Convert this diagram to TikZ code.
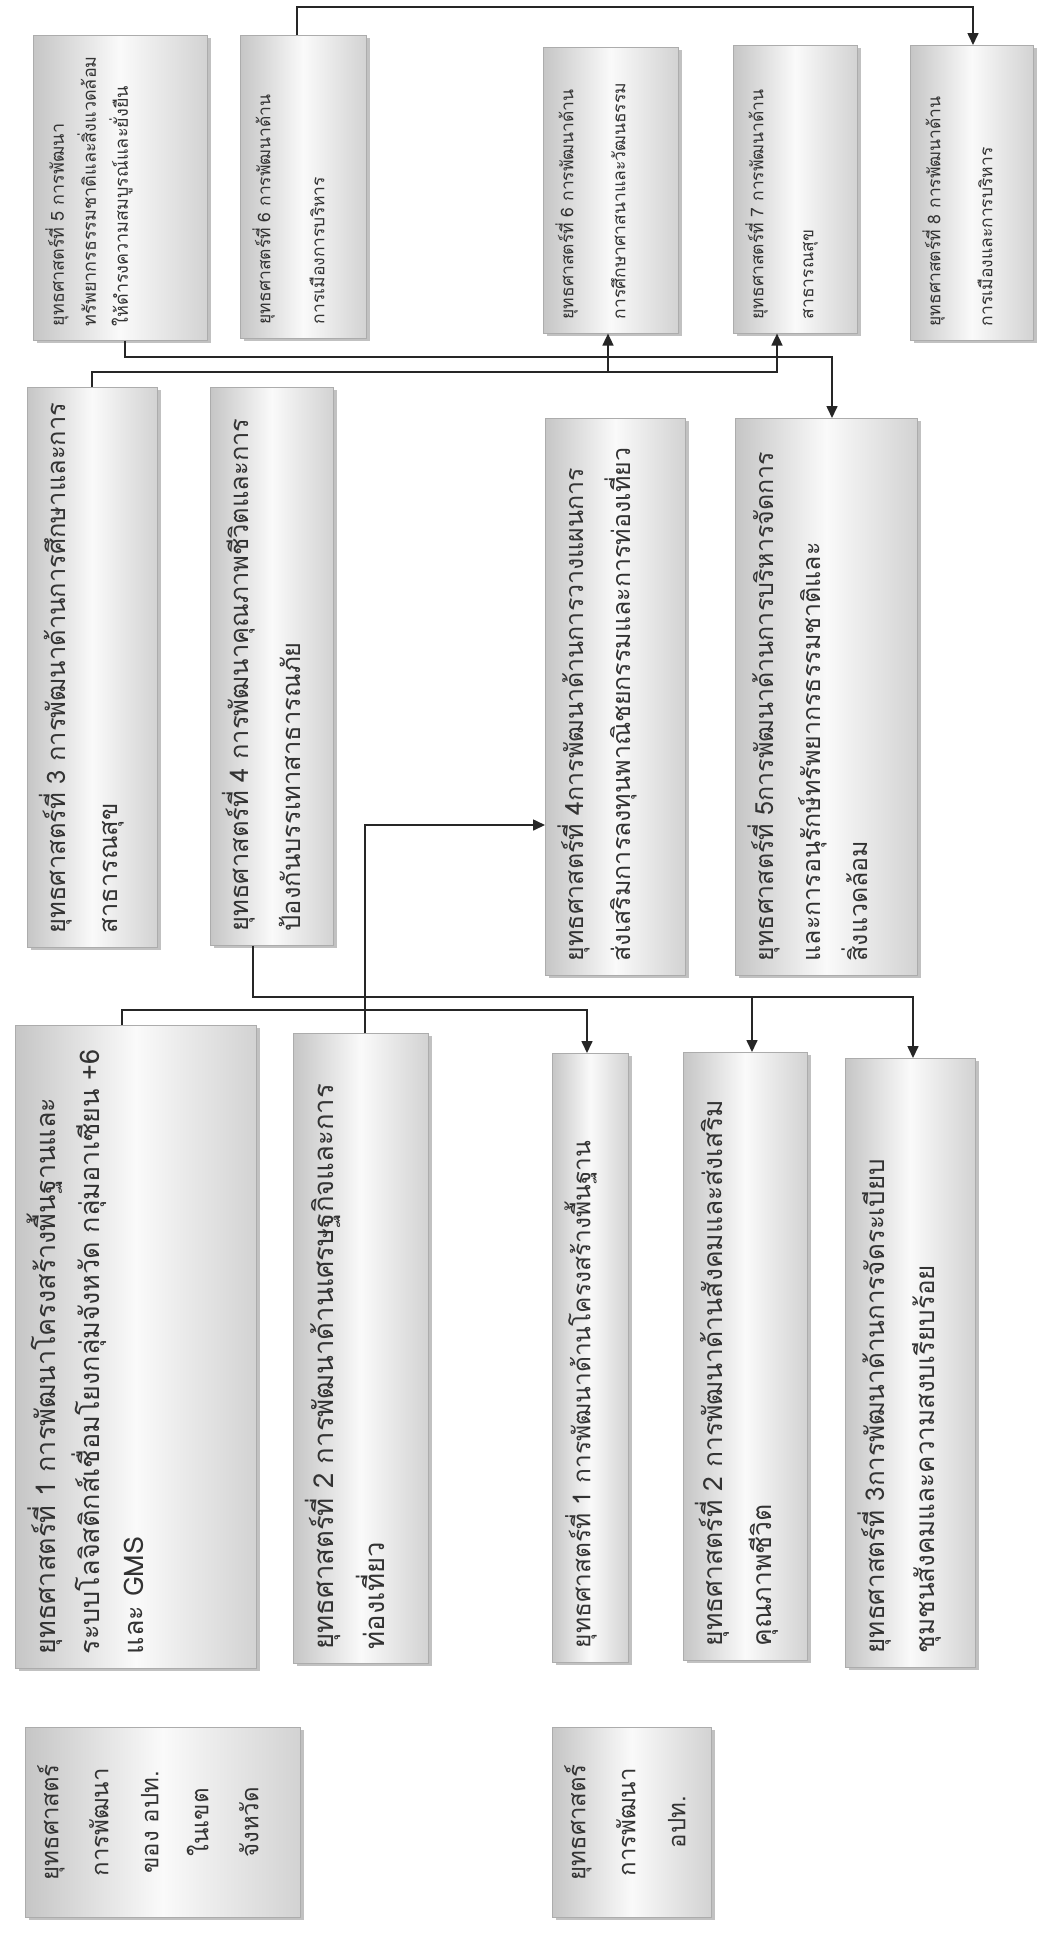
\documentclass[tikz,border=0pt]{standalone}
\usepackage{fontspec}
\usepackage{graphicx}
\newfontfamily\thai[Script=Thai]{Loma}
\usetikzlibrary{arrows.meta,shadows}
\newcommand\fz[2]{\thai\fontsize{#1}{#2}\selectfont}
% name, x, y, w, h, font/alignment, text
\newcommand\stratnode[7]{%
  \node[stratbox, minimum width=#4pt, minimum height=#5pt, anchor=north west] (#1) at (#2,#3)
  {\rotatebox{90}{\parbox[c][\dimexpr#4pt-24pt\relax][t]{\dimexpr#5pt-28pt\relax}{#6#7}}};}
\newcommand\tline[1]{\mbox{#1}}
\begin{document}
\begin{tikzpicture}[x=1pt,y=-1pt,
  stratbox/.style={draw=gray!65, line width=0.6pt, inner sep=0pt, text=black!80,
    left color=gray!45, right color=gray!35, middle color=gray!4,
    drop shadow={shadow xshift=4pt, shadow yshift=-3pt, fill=gray!60, opacity=0.8}},
  conn/.style={draw=black!85, line width=1.6pt},
  arr/.style={conn, -{Triangle[length=12pt,width=11pt]}}]
\fill[white] (0,0) rectangle (1042,1947);
\useasboundingbox (0,0) rectangle (1042,1947);

% top row
\stratnode{b5}{33}{35}{174}{305}{\fz{18}{32}\raggedright}{\tline{ยุทธศาสตร์ที่ 5 การพัฒนา}\\\tline{ทรัพยากรธรรมชาติและสิ่งแวดล้อม}\\\tline{ให้ดำรงความสมบูรณ์และยั่งยืน}}
\stratnode{b6}{240}{35}{126}{303}{\fz{17.5}{54}\raggedright}{\tline{ยุทธศาสตร์ที่ 6 การพัฒนาด้าน}\\\tline{การเมืองการบริหาร}}
\stratnode{l6}{543}{47}{135}{286}{\fz{17.5}{52}\raggedright}{\tline{ยุทธศาสตร์ที่ 6 การพัฒนาด้าน}\\\tline{การศึกษาศาสนาและวัฒนธรรม}}
\stratnode{l7}{733}{45}{124}{288}{\fz{17.5}{50}\raggedright}{\tline{ยุทธศาสตร์ที่ 7 การพัฒนาด้าน}\\\tline{สาธารณสุข}}
\stratnode{l8}{910}{45}{123}{295}{\fz{17.5}{52}\raggedright}{\tline{ยุทธศาสตร์ที่ 8 การพัฒนาด้าน}\\\tline{การเมืองและการบริหาร}}
% second row
\stratnode{b3}{27}{387}{130}{560}{\fz{25.5}{52}\raggedright}{\tline{ยุทธศาสตร์ที่ 3 การพัฒนาด้านการศึกษาและการ}\\\tline{สาธารณสุข}}
\stratnode{b4}{210}{387}{123}{558}{\fz{25.5}{52}\raggedright}{\tline{ยุทธศาสตร์ที่ 4 การพัฒนาคุณภาพชีวิตและการ}\\\tline{ป้องกันบรรเทาสาธารณภัย}}
\stratnode{l4}{545}{418}{140}{557}{\fz{25}{47}\raggedright}{\tline{ยุทธศาสตร์ที่ 4การพัฒนาด้านการวางแผนการ}\\\tline{ส่งเสริมการลงทุนพาณิชยกรรมและการท่องเที่ยว}}
\stratnode{l5}{735}{418}{182}{557}{\fz{25}{47}\raggedright}{\tline{ยุทธศาสตร์ที่ 5การพัฒนาด้านการบริหารจัดการ}\\\tline{และการอนุรักษ์ทรัพยากรธรรมชาติและ}\\\tline{สิ่งแวดล้อม}}
% third row
\stratnode{b1}{15}{1025}{241}{643}{\fz{27}{44}\raggedright}{\tline{ยุทธศาสตร์ที่ 1 การพัฒนาโครงสร้างพื้นฐานและ}\\\tline{ระบบโลจิสติกส์เชื่อมโยงกลุ่มจังหวัด กลุ่มอาเซียน +6}\\\tline{และ GMS}}
\stratnode{b2}{293}{1033}{135}{630}{\fz{27.5}{51}\raggedright}{\tline{ยุทธศาสตร์ที่ 2 การพัฒนาด้านเศรษฐกิจและการ}\\\tline{ท่องเที่ยว}}
\stratnode{s1}{552}{1053}{76}{609}{\fz{24.5}{49}\raggedright}{\tline{ยุทธศาสตร์ที่ 1 การพัฒนาด้านโครงสร้างพื้นฐาน}}
\stratnode{s2}{683}{1052}{124}{608}{\fz{26.5}{49}\raggedright}{\tline{ยุทธศาสตร์ที่ 2 การพัฒนาด้านสังคมและส่งเสริม}\\\tline{คุณภาพชีวิต}}
\stratnode{s3}{845}{1058}{130}{609}{\fz{26}{50}\raggedright}{\tline{ยุทธศาสตร์ที่ 3การพัฒนาด้านการจัดระเบียบ}\\\tline{ชุมชนสังคมและความสงบเรียบร้อย}}
% bottom row
\stratnode{lo1}{25}{1727}{275}{190}{\fz{24}{50}\centering}{\tline{ยุทธศาสตร์}\\\tline{การพัฒนา}\\\tline{ของ อปท.}\\\tline{ในเขต}\\\tline{จังหวัด}}
\stratnode{lo2}{552}{1727}{159}{190}{\fz{24}{50}\centering}{\tline{ยุทธศาสตร์}\\\tline{การพัฒนา}\\\tline{อปท.}}

% connectors
\draw[arr] (b6.north -| 297,0) -- (297,7) -- (973,7) -- (l8.north -| 973,0);
\draw[arr] (b5.south -| 125,0) -- (125,357) -- (832,357) -- (l5.north -| 832,0);
\draw[arr] (b3.north -| 92,0) -- (92,372) -- (777,372) -- (l7.south -| 777,0);
\draw[arr] (608,372) -- (l6.south -| 608,0);
\draw[arr] (b4.south -| 253,0) -- (253,997) -- (913,997) -- (s3.north -| 913,0);
\draw[arr] (752,997) -- (s2.north -| 752,0);
\draw[arr] (b1.north -| 122,0) -- (122,1010) -- (587,1010) -- (s1.north -| 587,0);
\draw[arr] (b2.north -| 365,0) -- (365,825) -- (l4.west |- 0,825);
\end{tikzpicture}
\end{document}
